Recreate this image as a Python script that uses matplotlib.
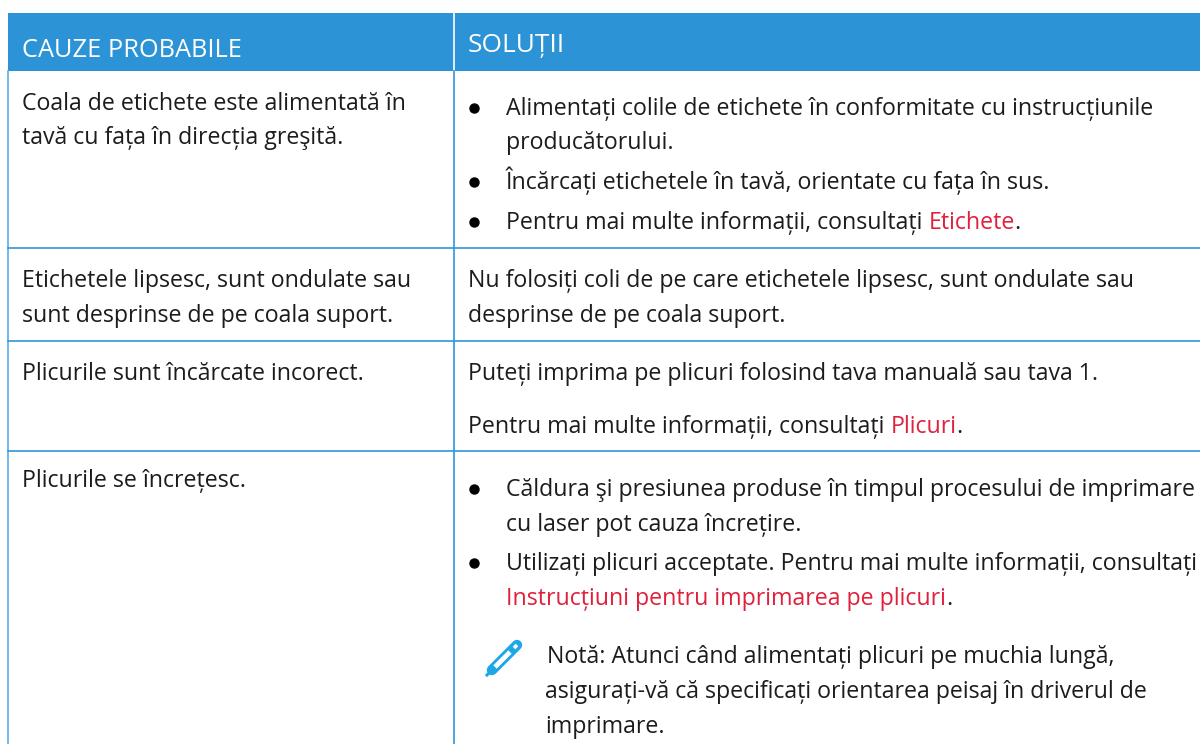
import matplotlib
matplotlib.use("Agg")
import matplotlib.pyplot as plt

plt.rcParams['font.family'] = ['Open Sans', 'DejaVu Sans']

BLUE = "#2b93d6"
LINE = "#3096da"
EDGE = "#5aaee4"
RED = "#e0203c"
DARK = "#1c1c1c"

headers = ["CAUZE PROBABILE", "SOLUȚII"]
causes = [
    ("Coala de etichete este alimentată în", 110),
    ("tavă cu fața în direcția greşită.", 144),
    ("Etichetele lipsesc, sunt ondulate sau", 287),
    ("sunt desprinse de pe coala suport.", 322),
    ("Plicurile sunt încărcate incorect.", 380),
    ("Plicurile se încrețesc.", 487),
]
row_lines = [248, 341, 451]
bullets_y = [108, 182, 222, 489, 563]

fig = plt.figure(figsize=(12, 7.44), dpi=100)
ax = fig.add_axes([0, 0, 1, 1])
ax.set_xlim(0, 1200)
ax.set_ylim(744, 0)
ax.axis("off")

FS = 16.7


def put(x, y, parts, size=FS):
    # parts is a list of (text, colour) drawn one after the other
    r = fig.canvas.get_renderer()
    for s, c in parts:
        t = ax.text(x, y, s, color=c, fontsize=size, va="baseline", ha="left")
        x = ax.transData.inverted().transform(t.get_window_extent(r))[1][0]


ax.fill_between([8, 1200], 13, 71, color=BLUE, lw=0)
ax.plot([454, 454], [13, 71], color="white", lw=1.2)
put(22, 57, [(headers[0], "white")], size=18.3)
put(468, 52, [(headers[1], "white")], size=18.9)

ax.plot([8, 8], [71, 744], color=EDGE, lw=1.2)
ax.plot([454, 454], [71, 744], color=LINE, lw=1.2)
for y in row_lines:
    ax.plot([8, 1200], [y, y], color=LINE, lw=1.2)

for s, y in causes:
    put(22, y, [(s, DARK)])

ax.plot([474] * 5, bullets_y, "o", color="black", ms=6.5, ls="none")

put(506, 115, [("Alimentați colile de etichete în conformitate cu instrucțiunile", DARK)])
put(506, 149, [("producătorului.", DARK)])
put(506, 189, [("Încărcați etichetele în tavă, orientate cu fața în sus.", DARK)])
put(506, 229, [("Pentru mai multe informații, consultați ", DARK), ("Etichete", RED), (".", DARK)])
put(468, 287, [("Nu folosiți coli de pe care etichetele lipsesc, sunt ondulate sau", DARK)])
put(468, 322, [("desprinse de pe coala suport.", DARK)])
put(468, 380, [("Puteți imprima pe plicuri folosind tava manuală sau tava 1.", DARK)])
put(468, 433, [("Pentru mai multe informații, consultați ", DARK), ("Plicuri", RED), (".", DARK)])
put(506, 496, [("Căldura şi presiunea produse în timpul procesului de imprimare", DARK)])
put(506, 531, [("cu laser pot cauza încrețire.", DARK)])
put(506, 570, [("Utilizați plicuri acceptate. Pentru mai multe informații, consultați", DARK)])
put(506, 605, [("Instrucțiuni pentru imprimarea pe plicuri", RED), (".", DARK)])
put(547, 663, [("Notă: Atunci când alimentați plicuri pe muchia lungă,", DARK)])
put(545, 698, [("asigurați-vă că specificați orientarea peisaj în driverul de", DARK)])
put(545, 733, [("imprimare.", DARK)])

# pencil icon
ICON = "#1ea7e6"
ax.plot([492, 517], [670, 645], color=ICON, lw=7.5, solid_capstyle="round")
ax.plot([495, 510], [667, 652], color="white", lw=3.4, solid_capstyle="butt")
ax.plot([514, 517], [648, 645], color="white", lw=2.6, solid_capstyle="butt")
ax.plot([487, 489], [675, 673], color=ICON, lw=2.2)

fig.savefig("out.png", dpi=100)
